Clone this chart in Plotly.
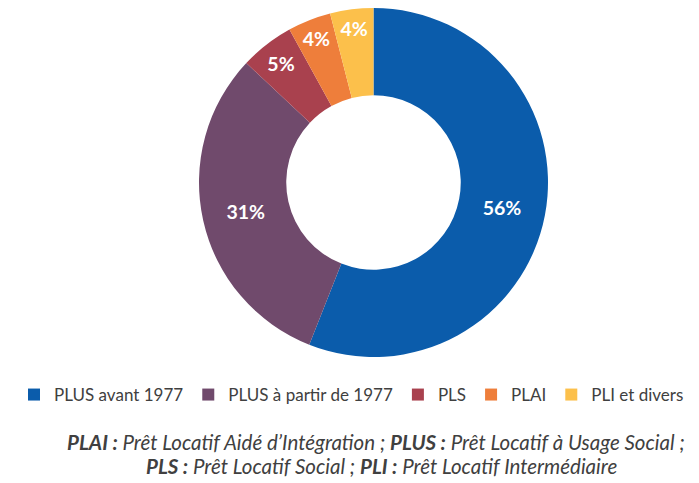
import plotly.graph_objects as go

labels = ["PLUS avant 1977", "PLUS à partir de 1977", "PLS", "PLAI", "PLI et divers"]
values = [56, 31, 5, 4, 4]
colors = ["#0B5CAB", "#704A6C", "#A9414E", "#EE7E3B", "#FCC04B"]

# page body has an 8px margin: figure is sized to fill the 699x483 window
W, H = 691, 475
OFF = 8


def px_x(x):
    return (x - OFF) / W


def px_y(y):
    return 1 - (y - OFF) / H


FONT = "Lato, Open Sans, sans-serif"

fig = go.Figure(go.Pie(
    labels=labels, values=values, hole=0.5, sort=False, direction="clockwise",
    rotation=0,
    marker=dict(colors=colors, line=dict(color="white", width=0)),
    texttemplate="<b>%{percent:.0%}</b>",
    textposition="inside", insidetextorientation="horizontal",
    textfont=dict(family=FONT, size=19.5, color="white"),
    domain=dict(x=[px_x(199), px_x(548)], y=[px_y(357), max(0, min(1, px_y(8)))]),
    hoverinfo="label+percent",
))

fig.update_layout(
    width=W, height=H,
    margin=dict(l=0, r=0, t=0, b=0),
    paper_bgcolor="white", plot_bgcolor="white",
    showlegend=True,
    uniformtext=dict(minsize=19.5, mode="show"),
    legend=dict(orientation="h", x=px_x(14), xanchor="left", y=px_y(395), yanchor="middle",
                font=dict(family=FONT, size=17, color="#404040"),
                itemwidth=30, tracegroupgap=0, traceorder="normal"),
    font=dict(family=FONT),
    annotations=[
        dict(text="<i><b>PLAI :</b> Prêt Locatif Aidé d’Intégration ; <b>PLUS :</b> Prêt Locatif à Usage Social ;</i>",
             x=px_x(376), y=px_y(442), xref="paper", yref="paper", showarrow=False,
             xanchor="center", yanchor="middle",
             font=dict(family=FONT, size=20.5, color="#404040")),
        dict(text="<i><b>PLS :</b> Prêt Locatif Social ; <b>PLI :</b> Prêt Locatif Intermédiaire</i>",
             x=px_x(381), y=px_y(466), xref="paper", yref="paper", showarrow=False,
             xanchor="center", yanchor="middle",
             font=dict(family=FONT, size=20.5, color="#404040")),
    ],
)

fig.write_html("out.html")
